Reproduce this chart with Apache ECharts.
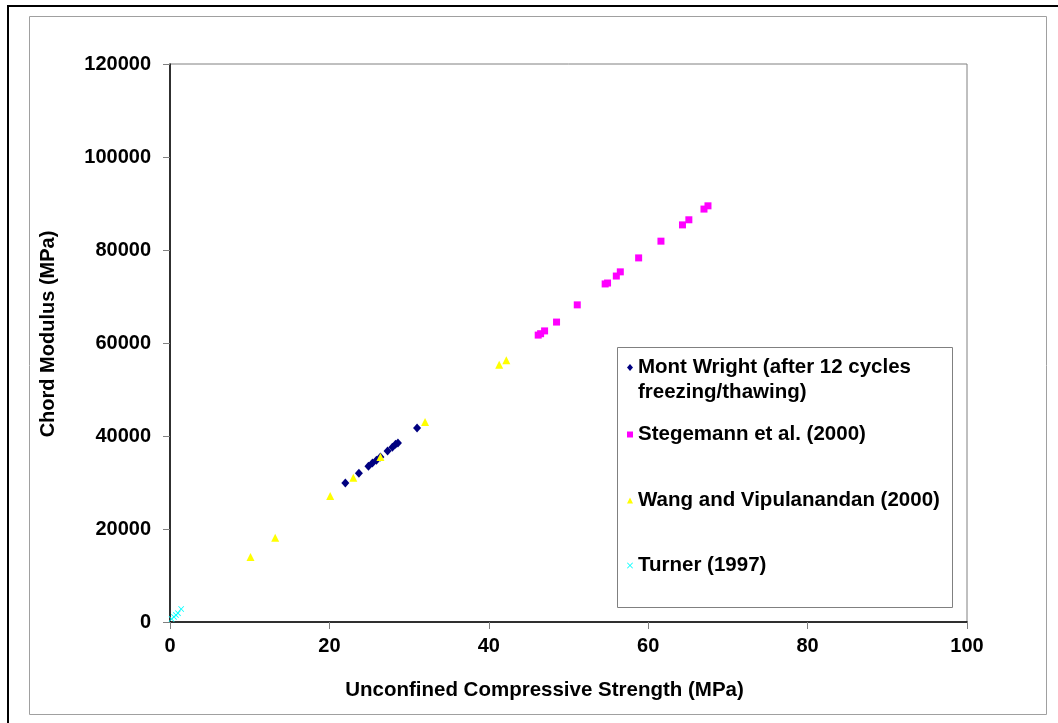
<!DOCTYPE html>
<html>
<head>
<meta charset="utf-8">
<script src="https://cdn.jsdelivr.net/npm/echarts@6/dist/echarts.min.js"></script>
<style>html,body{margin:0;padding:0;background:#fff;}#c{width:1058px;height:723px;}</style>
</head>
<body>
<div id="c"></div>
<script>
const seriesNames = ['Mont Wright (after 12 cycles\nfreezing/thawing)', 'Stegemann et al. (2000)', 'Wang and Vipulanandan (2000)', 'Turner (1997)'];
const montWrightX = [22.0, 23.7, 24.9, 25.4, 25.9, 26.4, 27.3, 27.9, 28.3, 28.6, 31.0];
const montWrightY = [29900, 32000, 33500, 34200, 34800, 35500, 36800, 37600, 38200, 38500, 41700];
const stegemannX = [46.2, 46.5, 47.0, 48.5, 51.1, 54.6, 54.9, 56.0, 56.5, 58.8, 61.6, 64.3, 65.1, 67.0, 67.5];
const stegemannY = [61700, 62000, 62600, 64500, 68200, 72700, 72900, 74400, 75300, 78300, 81900, 85400, 86500, 88800, 89500];
const wangX = [10.1, 13.2, 20.1, 23.0, 26.4, 32.0, 41.3, 42.2];
const wangY = [14000, 18100, 27100, 31000, 35500, 43000, 55300, 56300];
const turnerX = [0.2, 0.5, 0.75, 1.0, 1.4];
const turnerY = [650, 1100, 1500, 1900, 2800];
const xMin = 0, xMax = 100, xStep = 20;
const yMin = 0, yMax = 120000, yStep = 20000;

const FONT = '"Liberation Sans", Arial, sans-serif';
const zip = (a, b) => a.map((v, i) => [v, b[i]]);
const crossPath = 'path://M0,1L1,0L5,4L9,0L10,1L6,5L10,9L9,10L5,6L1,10L0,9L4,5Z';
const colors = ['#000080', '#FF00FF', '#FFFF00', '#00FFFF'];
const symbols = ['diamond', 'rect', 'triangle', crossPath];
const sizes = [[8, 9], 7, [8, 8], 6];
const legendIconSizes = [[6, 7], [6, 6], [6, 6], [6, 6]];
const legendTops = [330, 422, 488, 553];

const chart = echarts.init(document.getElementById('c'), null, {renderer: 'canvas'});
const dataSets = [zip(montWrightX, montWrightY), zip(stegemannX, stegemannY), zip(wangX, wangY), zip(turnerX, turnerY)];

const legends = seriesNames.map((n, i) => ({
  data: [{name: n, icon: symbols[i]}],
  left: 627, top: legendTops[i], orient: 'vertical', padding: 0, z: 20,
  itemWidth: legendIconSizes[i][0], itemHeight: legendIconSizes[i][1], itemGap: 6,
  selectedMode: false,
  formatter: i === 0 ? (name => '\n' + name) : (name => name),
  textStyle: {fontFamily: FONT, fontWeight: 'bold', fontSize: 20.5, color: '#000', lineHeight: 25}
}));

chart.setOption({
  animation: false,
  backgroundColor: '#fff',
  graphic: [
    {type: 'line', shape: {x1: 8, y1: 6, x2: 8, y2: 723}, style: {stroke: '#000', lineWidth: 2}},
    {type: 'line', shape: {x1: 7, y1: 6, x2: 1058, y2: 6}, style: {stroke: '#000', lineWidth: 2}},
    {type: 'rect', shape: {x: 29.5, y: 16.5, width: 1017, height: 698}, style: {fill: 'none', stroke: '#a0a0a0', lineWidth: 1}},
    {type: 'rect', z: 5, shape: {x: 617.5, y: 347.5, width: 335, height: 260}, style: {fill: '#fff', stroke: '#808080', lineWidth: 1}}
  ],
  legend: legends,
  grid: {left: 170, right: 91, top: 64, bottom: 101, show: true, borderColor: '#808080', borderWidth: 1, backgroundColor: '#fff'},
  xAxis: {
    type: 'value', min: xMin, max: xMax, interval: xStep,
    name: 'Unconfined Compressive Strength (MPa)', nameLocation: 'middle', nameGap: 58,
    nameTextStyle: {fontFamily: FONT, fontWeight: 'bold', fontSize: 20.5, color: '#000', padding: [0, 48, 0, 0]},
    axisLine: {show: true, onZero: false, lineStyle: {color: '#000', width: 1.5}},
    axisTick: {show: true, inside: false, length: 7, lineStyle: {color: '#808080'}},
    axisLabel: {fontFamily: FONT, fontWeight: 'bold', fontSize: 20, color: '#000', margin: 14},
    splitLine: {show: false}
  },
  yAxis: {
    type: 'value', min: yMin, max: yMax, interval: yStep,
    name: 'Chord Modulus (MPa)', nameLocation: 'middle', nameGap: 112, nameRotate: 90,
    nameTextStyle: {fontFamily: FONT, fontWeight: 'bold', fontSize: 20, color: '#000', padding: [0, 0, 0, 18]},
    axisLine: {show: true, onZero: false, lineStyle: {color: '#000', width: 1.5}},
    axisTick: {show: true, inside: false, length: 7, lineStyle: {color: '#808080'}},
    axisLabel: {fontFamily: FONT, fontWeight: 'bold', fontSize: 20, color: '#000', margin: 19, formatter: v => String(v)},
    splitLine: {show: false}
  },
  series: seriesNames.map((n, i) => ({
    name: n, type: 'scatter', data: dataSets[i],
    symbol: symbols[i], symbolSize: sizes[i],
    itemStyle: {color: colors[i], opacity: 1},
    emphasis: {disabled: true}
  }))
});
</script>
</body>
</html>
